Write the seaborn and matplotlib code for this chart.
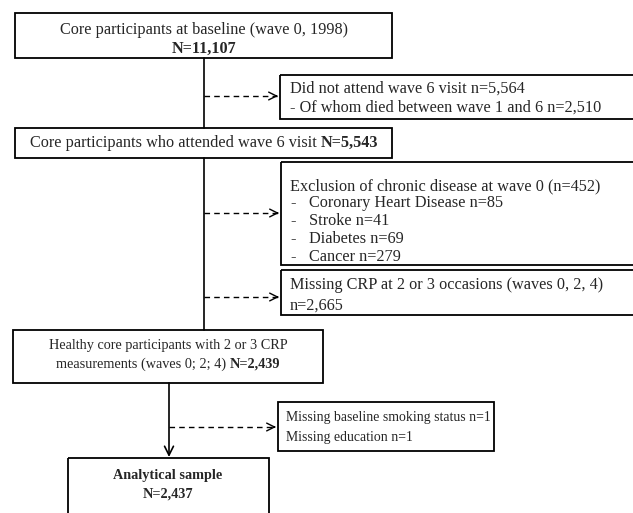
import matplotlib.pyplot as plt
import seaborn as sns
from matplotlib.patches import Rectangle

sns.set_style('white')
plt.rcParams['font.family'] = ['Liberation Serif', 'DejaVu Serif']

# flow chart content
baseline_text = 'Core participants at baseline (wave 0, 1998)'
baseline_n = 'N=11,107'
attended_text = 'Core participants who attended wave 6 visit '
attended_n = 'N=5,543'
healthy_text = ['Healthy core participants with 2 or 3 CRP', 'measurements (waves 0; 2; 4) ']
healthy_n = 'N=2,439'
final_text = ['Analytical sample', 'N=2,437']

excl1 = ['Did not attend wave 6 visit n=5,564', '- Of whom died between wave 1 and 6 n=2,510']
excl2_head = 'Exclusion of chronic disease at wave 0 (n=452)'
diseases = ['Coronary Heart Disease', 'Stroke', 'Diabetes', 'Cancer']
disease_n = [85, 41, 69, 279]
excl3 = ['Missing CRP at 2 or 3 occasions (waves 0, 2, 4)', 'n=2,665']
excl4 = ['Missing baseline smoking status n=1', 'Missing education n=1']

W, H = 633, 513
fig = plt.figure(figsize=(W / 100, H / 100), dpi=100)
ax = fig.add_axes([0, 0, 1, 1])
ax.set_xlim(0, W)
ax.set_ylim(H, 0)
ax.axis('off')
fs = 11.7    # upper part of the chart
fs2 = 10.3   # lower part is set narrower
fs3 = 9.9


def box(x0, y0, x1, y1):
    ax.add_patch(Rectangle((x0, y0), x1 - x0, y1 - y0, fill=False, lw=1.3, ec='black'))


def mixed(xc, y, parts, size):
    # centred line made of regular + bold pieces
    r = fig.canvas.get_renderer()
    items = [ax.text(0, y, s, fontsize=size, fontweight=w, va='center', ha='left') for s, w in parts]
    widths = [t.get_window_extent(r).width for t in items]
    x = xc - sum(widths) / 2
    for t, wd in zip(items, widths):
        t.set_x(x)
        x += wd


def dashed_arrow(x0, x1, y):
    ax.plot([x0, x1 - 1], [y, y], color='black', lw=1, ls=(0, (4, 3)))
    ax.annotate('', xy=(x1, y), xytext=(x1 - 2, y),
                arrowprops=dict(arrowstyle='->', lw=1, color='black', mutation_scale=14,
                                shrinkA=0, shrinkB=0))


# main boxes
box(15, 13, 392, 58)
ax.text(204, 30, baseline_text, fontsize=fs, ha='center', va='center')
ax.text(204, 49, baseline_n, fontsize=fs, ha='center', va='center', fontweight='bold')

box(15, 128, 392, 158)
mixed(204, 143, [(attended_text, 'normal'), (attended_n, 'bold')], fs)

box(13, 330, 323, 383)
ax.text(168, 345, healthy_text[0], fontsize=fs2, ha='center', va='center')
mixed(168, 364, [(healthy_text[1], 'normal'), (healthy_n, 'bold')], fs2)

box(68, 458, 269, 530)
ax.text(168, 475, final_text[0], fontsize=fs2, ha='center', va='center', fontweight='bold')
ax.text(168, 494, final_text[1], fontsize=fs2, ha='center', va='center', fontweight='bold')

# main vertical lines
ax.plot([204, 204], [58, 128], color='black', lw=1.2)
ax.plot([204, 204], [158, 330], color='black', lw=1.2)
ax.annotate('', xy=(169, 457), xytext=(169, 383),
            arrowprops=dict(arrowstyle='->', lw=1.2, color='black', mutation_scale=16,
                            shrinkA=0, shrinkB=0))

# exclusion boxes
box(280, 75, 640, 119)
ax.text(290, 89, excl1[0], fontsize=fs, va='center')
ax.text(290, 108, excl1[1], fontsize=fs, va='center')
dashed_arrow(204, 278, 96)

box(281, 162, 640, 265)
ax.text(290, 186, excl2_head, fontsize=fs, va='center')
for i, (d, n) in enumerate(zip(diseases, disease_n)):
    yy = 203 + i * 18
    ax.text(290, yy, '-', fontsize=fs, va='center')
    ax.text(309, yy, f'{d} n={n}', fontsize=fs, va='center')
dashed_arrow(204, 279, 213)

box(281, 270, 640, 315)
ax.text(290, 285, excl3[0], fontsize=fs, va='center')
ax.text(290, 306, excl3[1], fontsize=fs, va='center')
dashed_arrow(204, 279, 297)

box(278, 402, 494, 451)
ax.text(286, 418, excl4[0], fontsize=fs3, va='center')
ax.text(286, 437, excl4[1], fontsize=fs3, va='center')
dashed_arrow(169, 276, 427)

fig.savefig('out.png', dpi=100)
